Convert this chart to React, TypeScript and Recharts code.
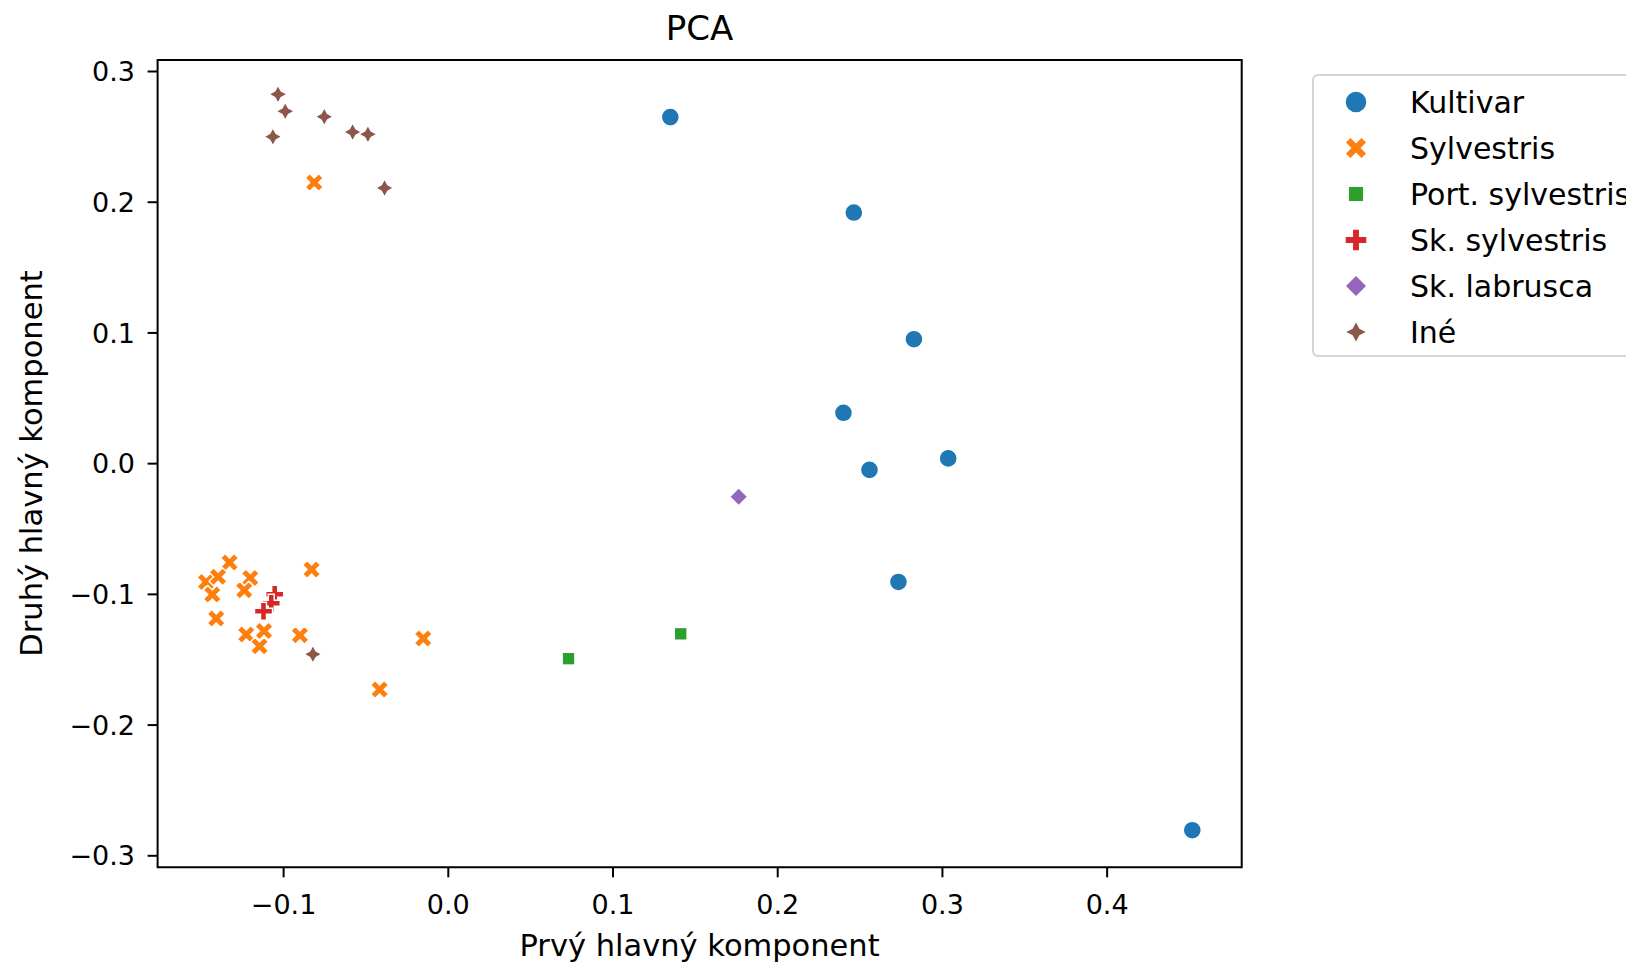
import React from 'react';
import { ScatterChart, Scatter, XAxis, YAxis, ReferenceArea, Legend } from 'recharts';

// PCA scores, [PC1, PC2]
const kultivar = [
  [0.1348, 0.2651], [0.2462, 0.1921], [0.2827, 0.0952], [0.2399, 0.0389],
  [0.3035, 0.0040], [0.2557, -0.0048], [0.2733, -0.0905], [0.4517, -0.2804],
];
const sylvestris = [
  [-0.0814, 0.2150], [-0.1328, -0.0756], [-0.1471, -0.0905], [-0.1398, -0.0866],
  [-0.1433, -0.1001], [-0.1202, -0.0874], [-0.1239, -0.0968], [-0.0830, -0.0810],
  [-0.1409, -0.1185], [-0.1227, -0.1307], [-0.1119, -0.1280], [-0.1146, -0.1397],
  [-0.0901, -0.1313], [-0.0152, -0.1338], [-0.0417, -0.1728],
];
const portSylvestris = [[0.0730, -0.1492], [0.1411, -0.1302]];
const skSylvestris = [[-0.1054, -0.0999], [-0.1075, -0.1068], [-0.1122, -0.1129]];
const skLabrusca = [[0.1763, -0.0254]];
const ine = [
  [-0.1034, 0.2826], [-0.0990, 0.2696], [-0.1065, 0.2501], [-0.0753, 0.2654],
  [-0.0581, 0.2537], [-0.0488, 0.2520], [-0.0387, 0.2109], [-0.0822, -0.1458],
];

const xTicks = [-0.1, 0, 0.1, 0.2, 0.3, 0.4];
const yTicks = [-0.3, -0.2, -0.1, 0, 0.1, 0.2, 0.3];
const X_MIN = -0.1765;
const X_MAX = 0.4817;
const Y_MIN = -0.3088;
const Y_MAX = 0.3088;

const FONT = '"DejaVu Sans", sans-serif';

const groups = [
  { name: 'Kultivar', points: kultivar, color: '#1f77b4', kind: 'circle' },
  { name: 'Sylvestris', points: sylvestris, color: '#ff7f0e', kind: 'x' },
  { name: 'Port. sylvestris', points: portSylvestris, color: '#2ca02c', kind: 'square' },
  { name: 'Sk. sylvestris', points: skSylvestris, color: '#d62728', kind: 'plus' },
  { name: 'Sk. labrusca', points: skLabrusca, color: '#9467bd', kind: 'diamond' },
  { name: 'Iné', points: ine, color: '#8c564b', kind: 'star' },
];

const X_VERTS = [[-1, -2], [0, -1], [1, -2], [2, -1], [1, 0], [2, 1], [1, 2], [0, 1], [-1, 2], [-2, 1], [-1, 0], [-2, -1]];
const P_VERTS = [[-1, -3], [1, -3], [1, -1], [3, -1], [3, 1], [1, 1], [1, 3], [-1, 3], [-1, 1], [-3, 1], [-3, -1], [-1, -1]];

const poly = (cx: number, cy: number, verts: number[][], k: number) =>
  verts.map(([a, b]) => `${cx + a * k},${cy + b * k}`).join(' ');

const Marker = ({ kind, cx, cy, color, size, sw }: any) => {
  const h = size / 2;
  const common = { fill: color, stroke: '#fff', strokeWidth: sw };
  switch (kind) {
    case 'circle':
      return <circle cx={cx} cy={cy} r={h} {...common} />;
    case 'x':
      return <polygon points={poly(cx, cy, X_VERTS, size / 4)} {...common} />;
    case 'plus':
      return <polygon points={poly(cx, cy, P_VERTS, size / 6)} {...common} />;
    case 'square': {
      const s = h * Math.SQRT1_2;
      return <rect x={cx - s} y={cy - s} width={2 * s} height={2 * s} {...common} />;
    }
    case 'diamond':
      return <polygon points={poly(cx, cy, [[0, -1], [1, 0], [0, 1], [-1, 0]], h)} {...common} />;
    default: {
      const pts: number[][] = [];
      for (let i = 0; i < 8; i++) {
        const r = i % 2 === 0 ? 1 : 0.5;
        const a = Math.PI / 2 + (i * Math.PI) / 4;
        pts.push([r * Math.cos(a), -r * Math.sin(a)]);
      }
      return <polygon points={poly(cx, cy, pts, h)} {...common} />;
    }
  }
};

const fmt = (v: number) => (v < 0 ? '\u2212' : '') + Math.abs(v).toFixed(1);

const LegendBox = () => (
  <div
    style={{
      width: 340,
      height: 283,
      border: '2px solid #d4d4d4',
      borderRadius: 6,
      background: '#fff',
      paddingTop: 3,
      boxSizing: 'border-box',
      fontFamily: FONT,
      fontSize: 30,
      color: '#000',
    }}
  >
    {groups.map((g) => (
      <div key={g.name} style={{ height: 46, display: 'flex', alignItems: 'center', whiteSpace: 'nowrap' }}>
        <svg width={30} height={30} style={{ marginLeft: 27 }}>
          <Marker kind={g.kind} cx={15} cy={15} color={g.color} size={22} sw={1.4} />
        </svg>
        <span style={{ marginLeft: 39 }}>{g.name}</span>
      </div>
    ))}
  </div>
);

export default function App() {
  return (
    <div style={{ position: 'absolute', left: 0, top: 0, width: 1626, height: 967, overflow: 'hidden', background: '#fff' }}>
      <ScatterChart width={1626} height={967} margin={{ top: 60, right: 384.3, bottom: 0, left: 0 }}>
        <XAxis
          type="number"
          dataKey="x"
          domain={[X_MIN, X_MAX]}
          ticks={xTicks}
          interval={0}
          allowDataOverflow
          height={99.7}
          axisLine={false}
          tickSize={10}
          tickMargin={18}
          tickLine={{ stroke: '#000', strokeWidth: 2 }}
          tick={{ fill: '#000', fontSize: 27, fontFamily: FONT }}
          tickFormatter={fmt}
          label={() => (
            <text x={699.6} y={956} textAnchor="middle" fontSize={30.5} fontFamily={FONT} fill="#000">
              Prvý hlavný komponent
            </text>
          )}
        />
        <YAxis
          type="number"
          dataKey="y"
          domain={[Y_MIN, Y_MAX]}
          ticks={yTicks}
          interval={0}
          allowDataOverflow
          width={157.6}
          axisLine={false}
          tickSize={10}
          tickMargin={12.6}
          tickLine={{ stroke: '#000', strokeWidth: 2 }}
          tick={{ fill: '#000', fontSize: 27, fontFamily: FONT }}
          tickFormatter={fmt}
          label={() => (
            <text
              x={42}
              y={463.5}
              transform="rotate(-90 42 463.5)"
              textAnchor="middle"
              fontSize={30.5}
              fontFamily={FONT}
              fill="#000"
            >
              Druhý hlavný komponent
            </text>
          )}
        />
        <ReferenceArea x1={X_MIN} x2={X_MAX} y1={Y_MIN} y2={Y_MAX} fill="none" stroke="#000" strokeWidth={2} />
        {groups.map((g) => (
          <Scatter
            key={g.name}
            name={g.name}
            data={g.points.map(([x, y]) => ({ x, y }))}
            isAnimationActive={false}
            shape={(p: any) => <Marker kind={g.kind} cx={p.cx} cy={p.cy} color={g.color} size={18} sw={1.4} />}
          />
        ))}
        <Legend
          layout="vertical"
          align="center"
          verticalAlign="middle"
          wrapperStyle={{ left: 1312, top: 74, width: 340 }}
          content={() => <LegendBox />}
        />
      </ScatterChart>
      <div
        style={{
          position: 'absolute',
          left: 0,
          top: 11,
          width: 1399.2,
          textAlign: 'center',
          fontFamily: FONT,
          fontSize: 34,
          lineHeight: '34px',
          color: '#000',
        }}
      >
        PCA
      </div>
    </div>
  );
}
